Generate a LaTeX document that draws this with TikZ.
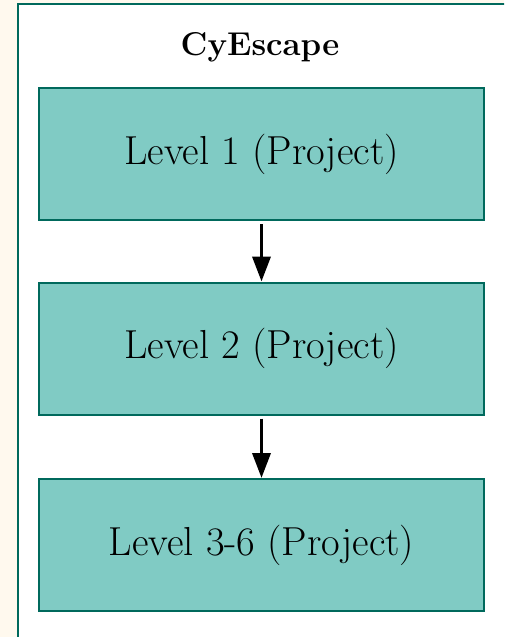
\documentclass[tikz,border=0pt]{standalone}
\usepackage{xcolor}
\usetikzlibrary{arrows.meta}

\definecolor{cream}{RGB}{255,249,238}
\definecolor{tealfill}{RGB}{128,203,196}
\definecolor{tealline}{RGB}{0,105,92}

\begin{document}
\begin{tikzpicture}[x=1pt, y=1pt,
    levelbox/.style={draw=tealline, fill=tealfill, line width=2pt,
      minimum width=445pt, minimum height=132pt, inner sep=0pt,
      font=\fontsize{40.5}{48}\selectfont},
    flow/.style={-{Triangle[width=18pt,length=25pt]}, line width=3.6pt, black,
      shorten <=3pt}]
  \useasboundingbox (0,0) rectangle (504,-637);
  \clip (0,0) rectangle (504,-637);
  \fill[cream] (0,0) rectangle (504,-637);
  % outer frame, cut off at right and bottom
  \draw[tealline, fill=white, line width=2pt] (18,-4) rectangle (530,-660);
  \node[font=\fontsize{33}{40}\selectfont\bfseries] (title) at (260,-47) {CyEscape};
  \node[levelbox] (lvl1) at (261.5,-154) {Level 1 (Project)};
  \node[levelbox] (lvl2) at (261.5,-348.5) {Level 2 (Project)};
  \node[levelbox] (lvl3) at (261.5,-545) {Level 3-6 (Project)};
  \draw[flow] (lvl1) -- (lvl2);
  \draw[flow] (lvl2) -- (lvl3);
\end{tikzpicture}
\end{document}
